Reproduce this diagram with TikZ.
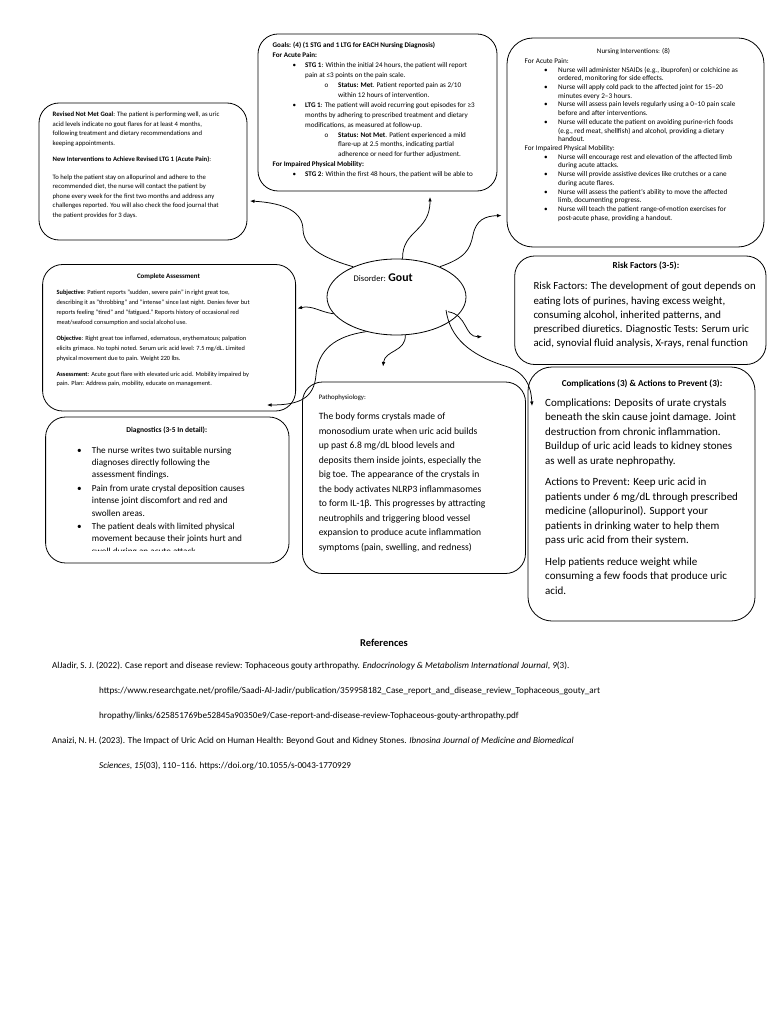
\documentclass[tikz,border=0pt]{standalone}
\usepackage{fontspec}
\setmainfont{Carlito}
\usetikzlibrary{arrows.meta,shapes.geometric}
\newcommand{\myblt}[2]{\makebox[#2pt][l]{\hspace*{#1pt}\textbullet}}
\newcommand{\myoo}[2]{\makebox[#2pt][l]{\hspace*{#1pt}o}}
\newcommand{\myind}[1]{\hspace*{#1pt}}
\newcommand{\myfs}[2]{\fontsize{#1}{#2}\selectfont}
\begin{document}
\begin{tikzpicture}[x=1pt,y=-1pt,
  box/.style={draw=black, line width=0.8pt, rounded corners=20pt, inner sep=0pt},
  tx/.style={inner sep=0pt, anchor=base west},
  ttl/.style={inner sep=0pt, anchor=base},
  conn/.style={draw=black, line width=0.75pt, -{Latex[length=4.5pt,width=3.6pt]}}]
\useasboundingbox (0,0) rectangle (768,1024);
\fill[white] (0,0) rectangle (768,1024);

% ---------- boxes ----------
\node[box, minimum width=239pt, minimum height=157pt] (goals) at (377.5,112.5) {};
\node[box, rounded corners=26pt, minimum width=257pt, minimum height=209pt] (nurs) at (635.5,142.5) {};
\node[box, minimum width=208pt, minimum height=137pt] (rev) at (143,171.5) {};
\node[box, minimum width=253pt, minimum height=146.5pt] (assess) at (169.1,337.75) {};
\node[box, minimum width=243.4pt, minimum height=146pt] (diag) at (167.3,490) {};
\node[box, minimum width=223pt, minimum height=191.5pt] (patho) at (414,477.75) {};
\node[box, minimum width=251.3pt, minimum height=108.5pt] (risk) at (640.35,310.25) {};
\node[box, rounded corners=24pt, minimum width=227pt, minimum height=254pt] (comp) at (641.5,494) {};
\node[draw=black, line width=0.8pt, ellipse, minimum width=139pt, minimum height=76pt, inner sep=0pt] (gout) at (396.5,297) {};

% ---------- disorder ----------
\node[tx] (goutT) at (353.5,281.5) {\myfs{8.6}{10}Disorder: {\myfs{11.8}{12}\bfseries Gout}};

% ---------- goals ----------
\node[tx] (goalsT) at (272.5,48) {\parbox[t]{222pt}{\myfs{7.1}{9.9}\raggedright
\textbf{Goals: (4) (1 STG and 1 LTG for EACH Nursing Diagnosis)}\\
\textbf{For Acute Pain:}\\
\myblt{20}{32.5}\textbf{STG 1}: Within the initial 24 hours, the patient will report\\
\myind{32.5}pain at ≤3 points on the pain scale.\\
\myoo{52}{65.5}\textbf{Status: Met}. Patient reported pain as 2/10\\
\myind{65.5}within 12 hours of intervention.\\
\myblt{20}{32.5}\textbf{LTG 1}: The patient will avoid recurring gout episodes for ≥3\\
\myind{32.5}months by adhering to prescribed treatment and dietary\\
\myind{32.5}modifications, as measured at follow-up.\\
\myoo{52}{65.5}\textbf{Status: Not Met}. Patient experienced a mild\\
\myind{65.5}flare-up at 2.5 months, indicating partial\\
\myind{65.5}adherence or need for further adjustment.\\
\textbf{For Impaired Physical Mobility:}\\
\myblt{20}{32.5}\textbf{STG 2}: Within the first 48 hours, the patient will be able to}};

% ---------- nursing interventions ----------
\node[ttl] (nursH) at (633.5,53.9) {\myfs{7}{8}Nursing Interventions: (8)};
\node[tx] (nursT) at (524.5,63.3) {\parbox[t]{236pt}{\myfs{7.2}{8.72}\raggedright
For Acute Pain:\\
\myblt{19.5}{33.5}Nurse will administer NSAIDs (e.g., ibuprofen) or colchicine as\\
\myind{33.5}ordered, monitoring for side effects.\\
\myblt{19.5}{33.5}Nurse will apply cold pack to the affected joint for 15–20\\
\myind{33.5}minutes every 2–3 hours.\\
\myblt{19.5}{33.5}Nurse will assess pain levels regularly using a 0–10 pain scale\\
\myind{33.5}before and after interventions.\\
\myblt{19.5}{33.5}Nurse will educate the patient on avoiding purine-rich foods\\
\myind{33.5}(e.g., red meat, shellfish) and alcohol, providing a dietary\\
\myind{33.5}handout.\\
For Impaired Physical Mobility:\\
\myblt{19.5}{33.5}Nurse will encourage rest and elevation of the affected limb\\
\myind{33.5}during acute attacks.\\
\myblt{19.5}{33.5}Nurse will provide assistive devices like crutches or a cane\\
\myind{33.5}during acute flares.\\
\myblt{19.5}{33.5}Nurse will assess the patient's ability to move the affected\\
\myind{33.5}limb, documenting progress.\\
\myblt{19.5}{33.5}Nurse will teach the patient range-of-motion exercises for\\
\myind{33.5}post-acute phase, providing a handout.}};

% ---------- revised ----------
\node[tx] (revT) at (52.5,117) {\parbox[t]{190pt}{\myfs{6.7}{9.45}\raggedright
\textbf{Revised Not Met Goal}: The patient is performing well, as uric\\
acid levels indicate no gout flares for at least 4 months,\\
following treatment and dietary recommendations and\\
keeping appointments.\\[6.9pt]
\textbf{New Interventions to Achieve Revised LTG 1 (Acute Pain)}:\\[8.2pt]
To help the patient stay on allopurinol and adhere to the\\
recommended diet, the nurse will contact the patient by\\
phone every week for the first two months and address any\\
challenges reported. You will also check the food journal that\\
the patient provides for 3 days.}};

% ---------- complete assessment ----------
\node[ttl] (assessH) at (168.5,278.8) {\myfs{6.9}{8}\bfseries Complete Assessment};
\node[tx] (assessT) at (56.4,294.7) {\parbox[t]{236pt}{\myfs{6.35}{9.9}\raggedright
\textbf{Subjective}: Patient reports "sudden, severe pain" in right great toe,\\
describing it as "throbbing" and "intense" since last night. Denies fever but\\
reports feeling "tired" and "fatigued." Reports history of occasional red\\
meat/seafood consumption and social alcohol use.\\[6pt]
\textbf{Objective}: Right great toe inflamed, edematous, erythematous; palpation\\
elicits grimace. No tophi noted. Serum uric acid level: 7.5 mg/dL. Limited\\
physical movement due to pain. Weight 220 lbs.\\[6pt]
\textbf{Assessment}: Acute gout flare with elevated uric acid. Mobility impaired by\\
pain. Plan: Address pain, mobility, educate on management.}};

% ---------- diagnostics ----------
\node[ttl] (diagH) at (166.7,432.7) {\myfs{7.5}{9}\bfseries Diagnostics (3-5 In detail):};
\node[tx] (diagT) at (77,453) {\parbox[t]{215pt}{\myfs{9.2}{12.4}\raggedright
\myblt{0}{14.7}The nurse writes two suitable nursing\\
\myind{14.7}diagnoses directly following the\\
\myind{14.7}assessment findings.\\[1pt]
\myblt{0}{14.7}Pain from urate crystal deposition causes\\
\myind{14.7}intense joint discomfort and red and\\
\myind{14.7}swollen areas.\\[1pt]
\myblt{0}{14.7}The patient deals with limited physical\\
\myind{14.7}movement because their joints hurt and}};
\begin{scope}
\clip (85,545) rectangle (285,550.6);
\node[tx] (diagCut) at (91.7,554.6) {\myfs{9.2}{12.4}swell during an acute attack.};
\end{scope}

% ---------- pathophysiology ----------
\node[tx] (pathoH) at (318.6,399.6) {\myfs{6.8}{8}Pathophysiology:};
\node[tx] (pathoT) at (318.6,419.6) {\parbox[t]{215pt}{\myfs{9.6}{14.5}\raggedright
The body forms crystals made of\\
monosodium urate when uric acid builds\\
up past 6.8 mg/dL blood levels and\\
deposits them inside joints, especially the\\
big toe. The appearance of the crystals in\\
the body activates NLRP3 inflammasomes\\
to form IL-1β. This progresses by attracting\\
neutrophils and triggering blood vessel\\
expansion to produce acute inflammation\\
symptoms (pain, swelling, and redness)}};

% ---------- risk factors ----------
\node[ttl] (riskH) at (646,268.6) {\myfs{9.1}{10}\bfseries Risk Factors (3-5):};
\node[tx] (riskT) at (533.3,289.8) {\parbox[t]{250pt}{\myfs{10.8}{14.2}\raggedright
Risk Factors: The development of gout depends on\\
eating lots of purines, having excess weight,\\
consuming alcohol, inherited patterns, and\\
prescribed diuretics. Diagnostic Tests: Serum uric\\
acid, synovial fluid analysis, X-rays, renal function}};

% ---------- complications ----------
\node[ttl] (compH) at (642,386) {\myfs{9.1}{10}\bfseries Complications (3) \& Actions to Prevent (3):};
\node[tx] (compT) at (545,406) {\parbox[t]{250pt}{\myfs{11}{14.5}\raggedright
Complications: Deposits of urate crystals\\
beneath the skin cause joint damage. Joint\\
destruction from chronic inflammation.\\
Buildup of uric acid leads to kidney stones\\
as well as urate nephropathy.\\[7pt]
Actions to Prevent: Keep uric acid in\\
patients under 6 mg/dL through prescribed\\
medicine (allopurinol). Support your\\
patients in drinking water to help them\\
pass uric acid from their system.\\[7pt]
Help patients reduce weight while\\
consuming a few foods that produce uric\\
acid.}};

% ---------- references ----------
\node[ttl] (refH) at (384,646) {\myfs{10.5}{11}\bfseries References};
\node[tx] (refT) at (52,668) {\parbox[t]{700pt}{\myfs{9.1}{25.2}\raggedright
AlJadir, S. J. (2022). Case report and disease review: Tophaceous gouty arthropathy. \textit{Endocrinology \& Metabolism International Journal}, \textit{9}(3).\\
\myind{47}https://www.researchgate.net/profile/Saadi-Al-Jadir/publication/359958182\_Case\_report\_and\_disease\_review\_Tophaceous\_gouty\_art\\
\myind{47}hropathy/links/625851769be52845a90350e9/Case-report-and-disease-review-Tophaceous-gouty-arthropathy.pdf\\
Anaizi, N. H. (2023). The Impact of Uric Acid on Human Health: Beyond Gout and Kidney Stones. \textit{Ibnosina Journal of Medicine and Biomedical}\\
\myind{47}\textit{Sciences}, \textit{15}(03), 110–116. https://doi.org/10.1055/s-0043-1770929}};

% ---------- connectors ----------
\coordinate (eRev) at (250,201);
\coordinate (eGoals) at (430,197);
\coordinate (eNurs) at (501.5,215.5);
\coordinate (eAssess) at (297.5,308.5);
\coordinate (eRisk) at (482,336.7);
\coordinate (eComp) at (532,406);
\coordinate (eDiag) at (267,405);
\coordinate (ePatho) at (383,366.5);

\draw[conn] (gout.145) .. controls (330,260) and (304,250) .. (303,230)
  .. controls (303,212) and (285,203) .. (eRev);
\draw[conn] (gout.81) .. controls (402,230) and (430,232) .. (eGoals);
\draw[conn] (gout.35) .. controls (465,258) and (470,250) .. (473,235)
  .. controls (476,220) and (485,216) .. (eNurs);
\draw[conn] (gout.195) .. controls (320,312) and (312,305) .. (eAssess);
\draw[conn] ([shift={(51.5,14.7)}]gout.center) .. controls (468,315) and (464,337) .. (eRisk);
\draw[conn] ([shift={(49.5,13)}]gout.center) .. controls (450,338) and (470,355) .. (505,366)
  .. controls (525,372) and (531,385) .. (eComp);
\draw[conn] (gout.229) .. controls (335,336) and (318,350) .. (316,375)
  .. controls (314,398) and (300,405) .. (eDiag);
\draw[conn] (gout.283) .. controls (406,352) and (385,350) .. (ePatho);
\end{tikzpicture}
\end{document}
